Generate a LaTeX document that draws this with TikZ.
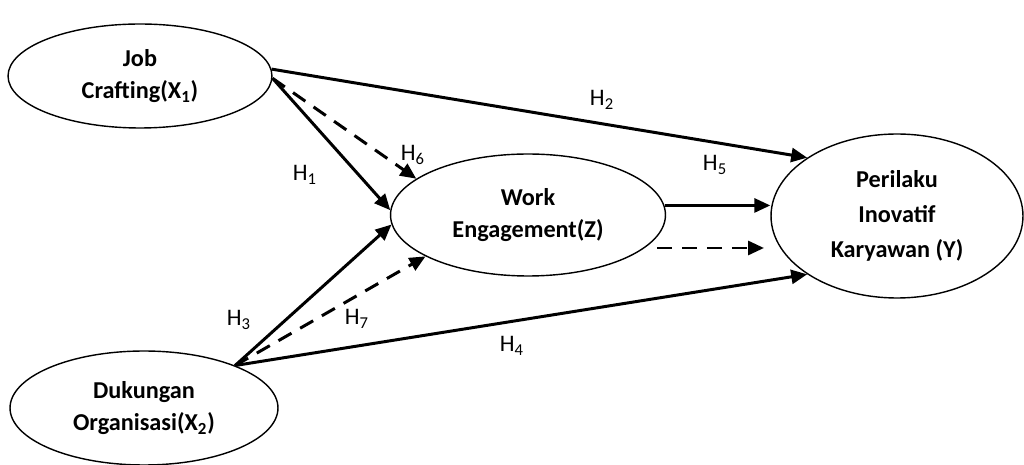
\documentclass[tikz,border=0pt]{standalone}
\usepackage{fontspec}
\setmainfont{Carlito}
\usetikzlibrary{arrows.meta, shapes.geometric}

\begin{document}
\begin{tikzpicture}[x=0.02cm, y=-0.02cm,
  var/.style={draw, ellipse, line width=0.8pt, inner sep=0pt, align=center,
              font=\fontsize{13.8}{18.5}\selectfont\bfseries},
  arr/.style={-{Triangle[length=0.32cm, width=0.28cm]}, line width=1.7pt},
  darr/.style={arr, dash pattern=on 0.3cm off 0.2cm},
  hyp/.style={font=\fontsize{13.5}{15}\selectfont}
]
  \useasboundingbox (0,0) rectangle (1024,465);

  % Variables
  \node[var, minimum width=5.28cm, minimum height=2.08cm] (jc) at (140,76)
    {Job\\Crafting(X\textsubscript{1})};
  \node[var, minimum width=5.36cm, minimum height=2.28cm] (do) at (144,408)
    {Dukungan\\Organisasi(X\textsubscript{2})};
  \node[var, minimum width=5.5cm, minimum height=2.44cm] (we) at (528,215)
    {Work\\Engagement(Z)};
  \node[var, minimum width=5.04cm, minimum height=3.28cm,
        font=\fontsize{13.8}{20}\selectfont\bfseries] (pi) at (897,216)
    {Perilaku\\Inovatif\\Karyawan (Y)};

  % Direct paths
  \draw[arr] (jc.3) -- (pi.147);
  \draw[arr] (jc.-1) -- (we.178);
  \draw[arr] (do.25) -- (we.184);
  \draw[arr] (do.25) -- (pi.213);
  \draw[arr] (we.4) -- (we.4 -| pi.west);

  % Mediated paths
  \coordinate (m1) at (657,248);
  \coordinate (m2) at (764,248);
  \draw[darr] (jc.-1) -- (we.162);
  \draw[darr] (do.25) -- (we.202);
  \draw[darr] (m1) -- (m2);

  % Hypotheses
  \node[hyp] (h1) at (305,175) {H\textsubscript{1}};
  \node[hyp] (h2) at (602,100) {H\textsubscript{2}};
  \node[hyp] (h3) at (239,320) {H\textsubscript{3}};
  \node[hyp] (h4) at (512,346) {H\textsubscript{4}};
  \node[hyp] (h5) at (715,165) {H\textsubscript{5}};
  \node[hyp] (h6) at (413,155) {H\textsubscript{6}};
  \node[hyp] (h7) at (357,319) {H\textsubscript{7}};
\end{tikzpicture}
\end{document}
